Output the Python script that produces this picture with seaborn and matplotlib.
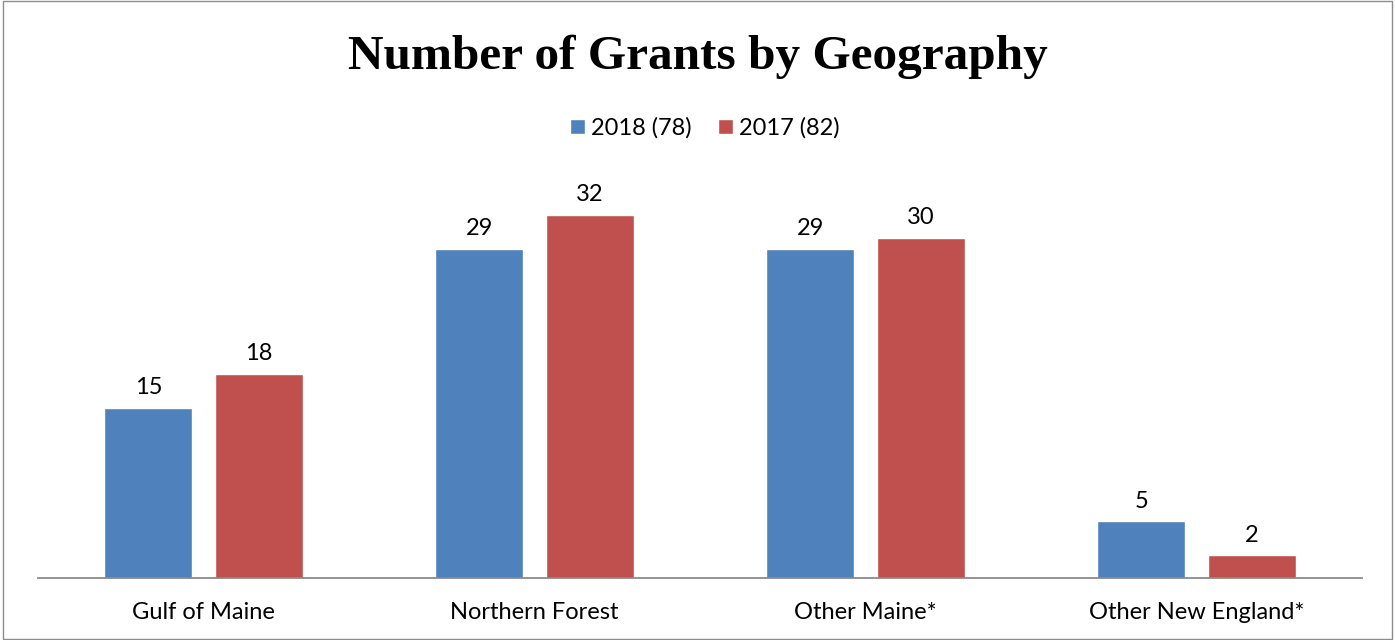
import pandas as pd
import matplotlib
matplotlib.use("Agg")
import matplotlib.pyplot as plt
import seaborn as sns

# ===== Data =====
regions = ["Gulf of Maine", "Northern Forest", "Other Maine*", "Other New England*"]
grants_2018 = [15, 29, 29, 5]
grants_2017 = [18, 32, 30, 2]
series_names = ["2018 (78)", "2017 (82)"]

df = pd.DataFrame({
    "region": regions * 2,
    "grants": grants_2018 + grants_2017,
    "year": [series_names[0]] * 4 + [series_names[1]] * 4,
})

sns.set_theme(style="white")
plt.rcParams["font.family"] = ["Lato", "DejaVu Sans"]
plt.rcParams["text.color"] = "black"
plt.rcParams["xtick.color"] = "black"

fig = plt.figure(figsize=(13.95, 6.4), dpi=100)
ax = fig.add_axes([38 / 1395, 62 / 640, 1324 / 1395, 408 / 640])

sns.barplot(data=df, x="region", y="grants", hue="year",
            palette=["#4F81BD", "#C0504D"], width=0.665, gap=0.2,
            saturation=1, ax=ax)

ax.set_ylim(0, 408 / 11.34)
ax.set_xlim(-0.5, 3.5)

for c in ax.containers:
    ax.bar_label(c, fontsize=17, padding=7, color="black")

ax.set_xlabel("")
ax.set_ylabel("")
ax.set_yticks([])
ax.tick_params(axis="x", labelsize=17, length=0, pad=17, labelcolor="black")
for s in ["top", "left", "right"]:
    ax.spines[s].set_visible(False)
ax.spines["bottom"].set_color("#868686")

ax.legend(loc="center", bbox_to_anchor=(705 / 1395, 1 - 128 / 640),
          bbox_transform=fig.transFigure, ncol=2, frameon=False,
          fontsize=17, handlelength=0.65, handleheight=0.65,
          handletextpad=0.25, columnspacing=1.1)

fig.text(0.5, 1 - 57 / 640, "Number of Grants by Geography",
         ha="center", va="center", fontsize=35.5, fontweight="bold",
         family="Liberation Serif", color="black")

fig.patches.append(plt.Rectangle((0.002, 0.002), 0.996, 0.996,
                                 transform=fig.transFigure, fill=False,
                                 edgecolor="#8c8c8c", linewidth=1))

fig.savefig("out.png", dpi=100)
